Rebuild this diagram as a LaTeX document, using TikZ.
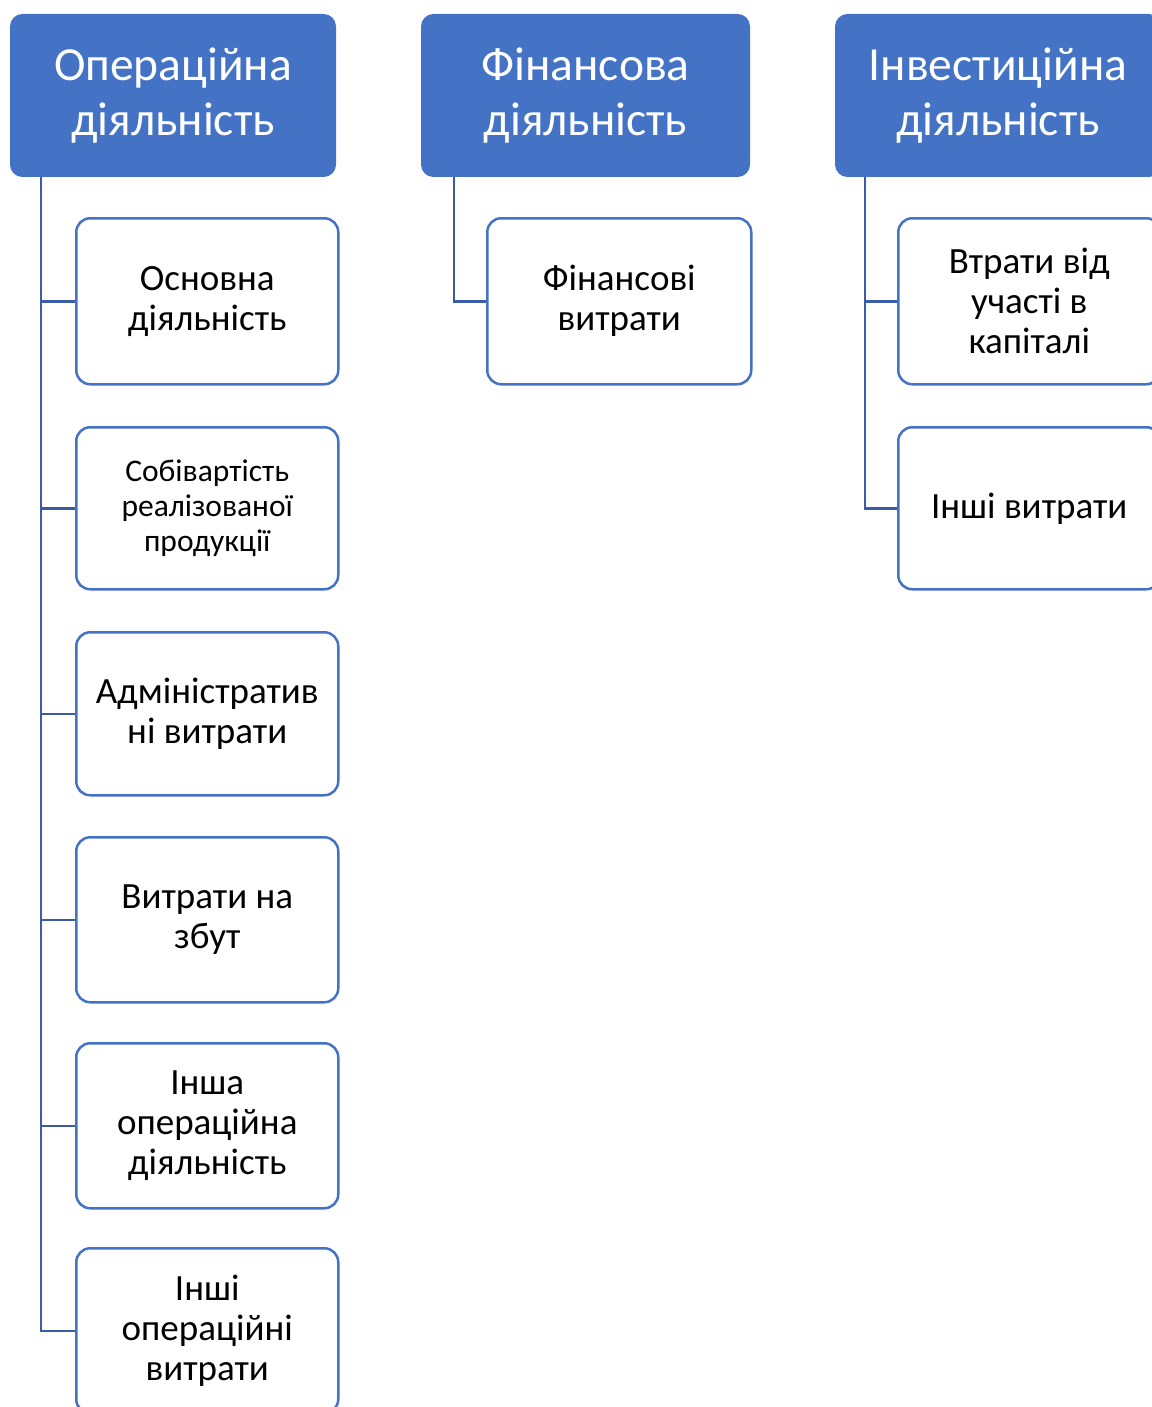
\documentclass[tikz,border=0pt]{standalone}
\usepackage{fontspec}
\setmainfont{Carlito}
\definecolor{hdr}{HTML}{4472C4}
\definecolor{con}{HTML}{3A5BA5}
\begin{document}
\begin{tikzpicture}[x=1pt,y=-1pt,
  hdrbox/.style={fill=hdr, draw=hdr, line width=1pt, rounded corners=12pt, text=white,
    font=\fontsize{47.5}{55}\selectfont, align=center, minimum width=325pt,
    minimum height=162pt, anchor=north west, inner sep=0pt},
  childbox/.style={fill=white, draw=hdr, line width=2.5pt, rounded corners=14pt, text=black,
    font=\fontsize{37}{40}\selectfont, align=center, minimum width=262pt,
    minimum height=166pt, anchor=north west, inner sep=0pt},
  smallbox/.style={childbox, font=\fontsize{31.5}{35}\selectfont},
  conn/.style={draw=con, line width=2.5pt}]
\useasboundingbox (0,0) rectangle (1151,1407);
% headers
\node[hdrbox] (h1) at (10,14) {Операційна\\діяльність};
\node[hdrbox, minimum width=328pt] (h2) at (421,14) {Фінансова\\діяльність};
\node[hdrbox] (h3) at (835,14) {Інвестиційна\\діяльність};
% column 1
\node[childbox] (a1) at (75,217) {Основна\\діяльність};
\node[smallbox, minimum height=162pt] (a2) at (75,426) {Собівартість\\реалізованої\\продукції};
\node[childbox, minimum height=163pt] (a3) at (75,631) {Адміністратив\\ні витрати};
\node[childbox, minimum height=165pt] (a4) at (75,836) {Витрати на\\збут};
\node[childbox, minimum height=165pt] (a5) at (75,1042) {Інша\\операційна\\діяльність};
\node[childbox, minimum height=165pt] (a6) at (75,1247) {Інші\\операційні\\витрати};
% column 2
\node[childbox, minimum width=264pt] (b1) at (486,217) {Фінансові\\витрати};
% column 3
\node[childbox] (c1) at (897,217) {Втрати від\\участі в\\капіталі};
\node[childbox, minimum height=162pt] (c2) at (897,426) {Інші витрати};
% connectors
\foreach \n in {a1,a2,a3,a4,a5,a6}
  \draw[conn] ([xshift=31pt]h1.south west) |- (\n.west);
\draw[conn] ([xshift=33pt]h2.south west) |- (b1.west);
\foreach \n in {c1,c2}
  \draw[conn] ([xshift=30pt]h3.south west) |- (\n.west);
\end{tikzpicture}
\end{document}
